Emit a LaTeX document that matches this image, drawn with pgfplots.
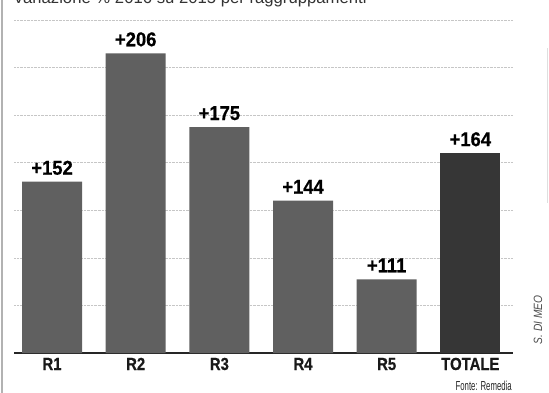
\documentclass[border=0pt]{standalone}
\usepackage{pgfplots}
\pgfplotsset{compat=1.18}
\usepackage{fontspec}
\setmainfont{Liberation Sans}
\newfontfamily\valfont[FakeStretch=0.92,FakeBold=0.6]{Liberation Sans}
\newfontfamily\catfont[FakeStretch=0.85,FakeBold=0.5]{Liberation Sans}
\newfontfamily\srcfont[FakeStretch=0.6]{Liberation Sans}
\newfontfamily\sigfont[FakeStretch=0.85]{Liberation Sans}
\definecolor{barR}{HTML}{606060}
\definecolor{barT}{HTML}{363636}
\begin{document}
\begin{tikzpicture}
\useasboundingbox (0,0) rectangle (549bp,393bp);
\clip (0,0) rectangle (549bp,393bp);
\begin{axis}[
  at={(14bp,40bp)}, anchor=south west,
  scale only axis, width=499bp, height=349.7bp,
  xmin=-0.455, xmax=5.51,
  ymin=80, ymax=227,
  axis x line*=bottom,
  axis y line*=left,
  y axis line style={draw=none},
  x axis line style={line width=1.2bp, black!85},
  ytick={100,120,...,220},
  yticklabels={},
  ytick style={draw=none},
  xtick style={draw=none},
  ymajorgrids,
  major grid style={densely dotted, gray!45, line width=0.6bp},
  xtick={0,1,2,3,4,5},
  xticklabels={R1,R2,R3,R4,R5,TOTALE},
  xticklabel style={font=\catfont\bfseries\fontsize{17.5bp}{17.5bp}\selectfont, anchor=base, inner sep=0pt, yshift=-17bp, text=black!90},
  nodes near coords={\pgfplotspointmeta},
  point meta=explicit symbolic,
  every node near coord/.append style={font=\valfont\bfseries\fontsize{20bp}{20bp}\selectfont, anchor=base, inner sep=0pt, yshift=7bp, text=black},
  clip=false,
]
\addplot[ybar, bar width=60bp, bar shift=0pt, fill=barR, draw=none] coordinates {
  (0,152) [+152]
  (1,206) [+206]
  (2,175) [+175]
  (3,144) [+144]
  (4,111) [+111]
};
\addplot[ybar, bar width=60bp, bar shift=0pt, fill=barT, draw=none] coordinates {
  (5,164) [+164]
};
\end{axis}
\node[anchor=base west, inner sep=0pt, font=\fontsize{16.7bp}{16.7bp}\selectfont, text=black!80] at (13bp,389bp) {Variazione \% 2016 su 2015 per raggruppamenti};
\draw[gray!60, line width=1.2bp] (2bp,0) -- (2bp,393bp);
\draw[gray!25, line width=0.6bp] (547bp,190bp) -- (547bp,345bp);
\node[anchor=base east, inner sep=0pt, font=\srcfont\fontsize{13bp}{13bp}\selectfont, text=black!85] at (512bp,3bp) {Fonte: Remedia};
\node[rotate=90, inner sep=0pt, font=\sigfont\itshape\fontsize{12bp}{12bp}\selectfont, text=black!70] at (538bp,73bp) {S. DI MEO};
\end{tikzpicture}
\end{document}
